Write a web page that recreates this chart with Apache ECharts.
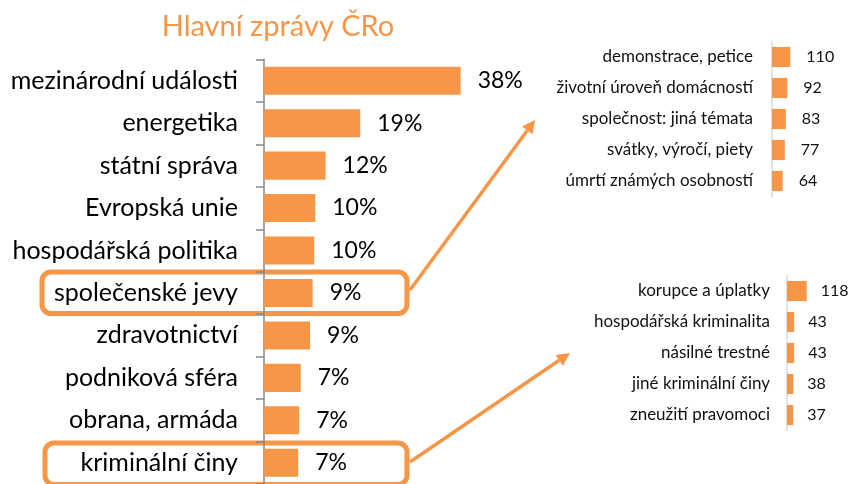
<!DOCTYPE html>
<html>
<head>
<meta charset="utf-8">
<script src="https://cdn.jsdelivr.net/npm/echarts@6/dist/echarts.min.js"></script>
<style>html,body{margin:0;padding:0;background:#fff}#c{width:852px;height:484px}</style>
</head>
<body>
<div id="c"></div>
<script>
var title = 'Hlavní zprávy ČRo';
var mainCategories = ['mezinárodní události','energetika','státní správa','Evropská unie','hospodářská politika','společenské jevy','zdravotnictví','podniková sféra','obrana, armáda','kriminální činy'];
var mainValues = [38, 18.6, 11.9, 9.9, 9.7, 9.4, 8.9, 7.1, 6.8, 6.6];
var mainLabels = ['38%','19%','12%','10%','10%','9%','9%','7%','7%','7%'];
var socCategories = ['demonstrace, petice','životní úroveň domácností','společnost: jiná témata','svátky, výročí, piety','úmrtí známých osobností'];
var socValues = [110, 92, 83, 77, 64];
var crimeCategories = ['korupce a úplatky','hospodářská kriminalita','násilné trestné','jiné kriminální činy','zneužití pravomoci'];
var crimeValues = [118, 43, 43, 38, 37];

var ORANGE = '#F79646';
var FONT = 'Lato';

function arrow(x1, y1, x2, y2) {
  var dx = x2 - x1, dy = y2 - y1, L = Math.sqrt(dx*dx + dy*dy);
  var ux = dx / L, uy = dy / L, hl = 13, hw = 6.5;
  var bx = x2 - ux*hl, by = y2 - uy*hl;
  return [
    {type:'line', shape:{x1:x1, y1:y1, x2:bx, y2:by}, style:{stroke:ORANGE, lineWidth:3.5}},
    {type:'polygon', shape:{points:[[x2,y2],[bx - uy*hw, by + ux*hw],[bx + uy*hw, by - ux*hw]]}, style:{fill:ORANGE}}
  ];
}

var chart = echarts.init(document.getElementById('c'));
var insetLabel = {fontFamily: FONT, fontSize: 17, color: '#111'};
var insetValue = {fontFamily: FONT, fontSize: 16, color: '#111'};
chart.setOption({
  animation: false,
  grid: [
    {left: 264, top: 59.5, width: 207, height: 430},
    {left: 772, top: 41.5, width: 20, height: 155},
    {left: 787, top: 275.5, width: 20, height: 155}
  ],
  xAxis: [
    {gridIndex:0, type:'value', min:0, max:40, show:false},
    {gridIndex:1, type:'value', min:0, max:120, show:false},
    {gridIndex:2, type:'value', min:0, max:120, show:false}
  ],
  yAxis: [
    {gridIndex:0, type:'category', data: mainCategories, inverse:true,
     axisLine:{lineStyle:{color:'#868686', width:1.5}},
     axisTick:{show:true, length:8, lineStyle:{color:'#868686', width:1.5}},
     axisLabel:{fontFamily:FONT, fontSize:25, color:'#000', margin:26}},
    {gridIndex:1, type:'category', data: socCategories, inverse:true,
     axisLine:{lineStyle:{color:'#d9d9d9', width:1.5}}, axisTick:{show:false},
     axisLabel:Object.assign({margin:19}, insetLabel)},
    {gridIndex:2, type:'category', data: crimeCategories, inverse:true,
     axisLine:{lineStyle:{color:'#d9d9d9', width:1.5}}, axisTick:{show:false},
     axisLabel:Object.assign({margin:17}, insetLabel)}
  ],
  series: [
    {type:'bar', xAxisIndex:0, yAxisIndex:0, data: mainValues, barCategoryGap:'34%',
     itemStyle:{color:ORANGE},
     label:{show:true, position:'right', distance:17, fontFamily:FONT, fontSize:23, color:'#000',
            formatter:function(p){return mainLabels[p.dataIndex];}}},
    {type:'bar', xAxisIndex:1, yAxisIndex:1, data: socValues, barCategoryGap:'35%',
     itemStyle:{color:ORANGE},
     label:Object.assign({show:true, position:'right', distance:16}, insetValue)},
    {type:'bar', xAxisIndex:2, yAxisIndex:2, data: crimeValues, barCategoryGap:'35%',
     itemStyle:{color:ORANGE},
     label:Object.assign({show:true, position:'right', distance:14}, insetValue)}
  ],
  graphic: [
    {type:'text', x:278, y:27, style:{text:title, fontFamily:FONT, fontSize:29, fill:ORANGE, textAlign:'center', textVerticalAlign:'middle'}},
    {type:'rect', shape:{x:42, y:272, width:365, height:41.5, r:9}, style:{fill:null, stroke:ORANGE, lineWidth:5}},
    {type:'rect', shape:{x:45, y:443, width:362, height:41.5, r:9}, style:{fill:null, stroke:ORANGE, lineWidth:5}}
  ].concat(arrow(410, 290, 535, 120)).concat(arrow(410, 462, 570, 353))
});
</script>
</body>
</html>
